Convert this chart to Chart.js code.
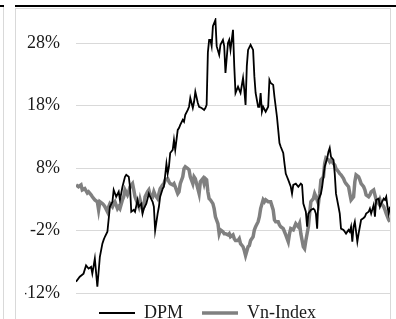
<!DOCTYPE html>
<html>
<head>
<meta charset="utf-8">
<script src="https://cdn.jsdelivr.net/npm/chart.js@4"></script>
<style>
  html, body { margin: 0; padding: 0; background: #fff; }
  body { width: 396px; height: 319px; overflow: hidden; position: relative; }
  .rule { position: absolute; background: #000; height: 2px; top: 5px; }
  .side { position: absolute; left: 3px; top: 7px; width: 1px; height: 320px; background: #d9d9d9; }
  .box { position: absolute; left: 15px; top: 8px; width: 374px; height: 330px; border: 1px solid #d9d9d9; }
  .box canvas { position: absolute; left: 0; top: 0; }
  .cut { position: absolute; left: 131px; top: -19px; font: 18px/18px "Liberation Serif", serif; color: #000; }
</style>
</head>
<body>
<div class="cut">p</div>
<div class="rule" style="left:0;width:4px"></div>
<div class="rule" style="left:15px;width:381px"></div>
<div class="side"></div>
<div class="box"><canvas id="chart" width="374" height="331"></canvas></div>
<script>
const seriesNames = ['DPM', 'Vn-Index'];
const yTicks = [-12, -2, 8, 18, 28];

// trading day index and % change
const dpmDays = [0,3,6,8,10,12,13,15,17,19,21,22,23,25,27,29,30,32,34,35,37,39,40,42,43,44,46,47,49,50,
  52,53,54,56,58,59,61,62,63,65,66,67,69,70,72,73,74,75,77,78,79,81,82,83,85,86,87,89,90,91,
  93,94,95,97,98,100,102,103,104,105,106,107,108,109,111,112,114,115,117,118,119,121,122,123,125,126,127,129,130,131,
  133,134,135,136,137,139,141,142,143,145,146,147,148,149,151,153,154,155,157,158,159,160,161,162,163,165,166,167,168,169,
  171,172,173,175,177,179,180,181,183,184,185,187,189,190,191,192,193,195,196,197,198,200,201,202,203,205,206,207,209,210,
  211,213,214,215,217,218,219,220,221,222,224,225,226,227,229,230,231,233,234,235,237,238,239,241,242,243,245,246,247,248,249,250];
const dpmValues = [-10.2,-9.4,-8.9,-7.6,-8.1,-7.8,-8.9,-6.5,-11.0,-6.2,-4.1,-3.5,-3.0,-2.2,1.8,2.6,4.5,3.4,4.2,2.9,
  5.0,6.6,6.9,6.6,5.0,1.0,1.3,1.0,2.9,1.8,2.3,0.7,1.5,2.3,3.9,3.4,2.6,1.8,-2.0,0.7,
  1.8,3.4,4.7,5.0,8.7,7.1,8.2,10.4,10.9,12.5,10.9,14.1,14.4,14.9,15.7,15.4,16.5,17.3,17.8,19.2,
  17.6,18.6,20.2,18.4,17.8,17.6,17.3,17.6,18.1,26.5,28.5,28.5,27.5,30.7,31.7,27.5,26.1,27.7,28.5,27.5,
  23.2,28.0,28.5,26.9,30.1,24.3,20.0,21.0,20.5,20.0,22.4,20.5,18.1,24.3,26.9,27.7,26.9,22.7,20.0,17.8,
  17.8,20.0,17.0,17.8,17.0,17.8,22.1,21.6,21.3,19.4,17.8,16.2,14.1,12.0,11.4,10.4,8.7,7.1,6.6,6.1,
  5.0,3.9,5.3,5.5,5.0,5.5,5.3,2.3,1.0,-1.4,0.7,1.3,1.5,1.3,0.7,-1.7,2.9,3.9,5.0,6.6,
  8.2,9.6,10.6,11.2,9.8,9.3,7.1,3.9,1.8,0.7,-1.7,-1.9,-2.2,-2.5,-1.9,-2.2,-1.4,-3.8,-1.4,-0.6,
  -3.8,-2.5,-1.4,-0.3,0.0,0.2,0.7,1.0,1.5,0.7,2.1,0.2,2.9,3.1,1.8,2.3,3.1,2.9,3.4,1.8,0.7,1.8];

const vnDays = [0,2,4,5,7,9,10,12,13,15,17,18,19,21,22,23,25,26,27,29,30,31,33,34,35,37,38,39,41,42,
  43,45,46,47,49,50,51,53,54,55,57,58,59,61,62,63,65,66,67,69,70,71,73,74,75,77,78,79,81,82,
  83,85,86,87,89,90,91,93,94,95,97,98,99,101,102,103,104,105,106,107,109,110,111,113,114,115,117,118,119,121,
  122,123,125,126,127,129,130,131,133,134,135,137,138,139,141,142,143,145,146,147,149,150,151,153,154,155,157,158,159,161,
  162,163,165,166,167,169,170,171,173,174,175,177,178,179,181,182,183,185,186,187,189,190,191,193,194,195,197,198,199,201,
  202,203,205,206,207,209,210,211,213,214,215,217,218,219,221,222,223,225,226,227,229,230,231,233,234,235,237,238,239,241,
  242,243,245,246,247,249,250];
const vnValues = [5.3,5.0,5.3,4.5,4.7,4.0,4.2,3.7,3.4,2.9,2.6,1.3,2.6,2.3,2.1,1.8,1.0,1.8,2.3,1.8,
  2.3,2.6,1.5,1.8,1.5,2.9,3.4,4.5,3.7,4.2,5.0,5.5,4.5,3.4,2.3,1.8,2.9,1.3,1.8,3.4,
  4.2,4.5,3.7,3.4,4.2,3.7,3.1,3.9,4.7,5.3,5.5,6.1,6.3,5.8,5.5,5.3,5.5,5.0,3.9,4.2,
  5.5,6.6,7.9,8.2,7.9,7.7,6.6,5.5,6.6,6.3,4.7,3.9,5.8,6.3,5.5,6.3,6.1,4.2,3.1,2.9,
  2.3,1.5,0.2,-0.9,-2.5,-1.9,-2.2,-2.5,-2.5,-2.7,-2.5,-3.0,-2.7,-3.3,-3.6,-3.6,-3.3,-4.1,-4.6,-5.2,
  -6.0,-4.6,-4.4,-3.6,-3.0,-1.9,-1.4,-0.6,0.2,1.5,2.9,2.6,2.9,2.6,2.6,2.6,1.3,-0.3,-0.6,-0.6,
  -1.1,-1.4,-1.7,-2.2,-2.7,-3.8,-2.5,-1.7,-1.9,-1.4,-0.9,-1.4,-0.9,-2.5,-4.6,-4.9,-3.6,-1.4,0.7,2.6,
  3.1,3.9,3.4,2.3,3.9,6.1,6.6,8.7,9.6,9.3,9.0,9.3,8.7,8.5,7.9,7.4,7.1,6.9,6.3,5.8,
  5.5,5.0,3.9,2.9,3.4,5.8,6.9,6.6,6.1,5.5,5.0,4.5,3.7,3.4,3.7,4.2,4.5,3.7,2.9,2.3,
  2.9,2.3,1.8,1.3,0.7,-0.3,-0.6];

function toPoints(days, values) {
    return days.map((d, i) => ({x: d, y: values[i]}));
}

// nudge the legend up a little, it sits closer to the plot than Chart.js puts it
const legendShift = {
    id: 'legendShift',
    afterLayout(chart) {
        chart.legend.top -= 8;
        chart.legend.bottom -= 8;
    }
};

const serif = '"Liberation Serif", "Times New Roman", serif';

new Chart(document.getElementById('chart'), {
    type: 'line',
    data: {
        datasets: [{
            label: seriesNames[0],
            data: toPoints(dpmDays, dpmValues),
            borderColor: '#000000',
            backgroundColor: '#000000',
            borderWidth: 1.8,
            pointRadius: 0,
            tension: 0
        }, {
            label: seriesNames[1],
            data: toPoints(vnDays, vnValues),
            borderColor: '#808080',
            backgroundColor: '#808080',
            borderWidth: 3.5,
            pointRadius: 0,
            tension: 0
        }]
    },
    options: {
        responsive: false,
        animation: false,
        layout: {
            padding: {left: 9, top: 9, right: 0, bottom: 0}
        },
        scales: {
            x: {
                type: 'linear',
                min: 0,
                max: 250,
                display: false
            },
            y: {
                min: -12,
                max: 32,
                afterFit: s => {
                    s.width = 51;
                    s.paddingTop = 0;
                    s.paddingBottom = 0;
                },
                afterBuildTicks: s => { s.ticks = yTicks.map(v => ({value: v})); },
                border: {display: false},
                grid: {color: '#d9d9d9', lineWidth: 1, drawTicks: false},
                ticks: {
                    padding: 16,
                    color: '#1a1a1a',
                    font: {family: serif, size: 18},
                    callback: v => v + '%'
                }
            }
        },
        plugins: {
            tooltip: {enabled: false},
            legend: {
                position: 'bottom',
                labels: {
                    usePointStyle: true,
                    pointStyle: 'line',
                    pointStyleWidth: 36,
                    padding: 19,
                    color: '#1a1a1a',
                    font: {family: serif, size: 18}
                }
            }
        }
    },
    plugins: [legendShift]
});
</script>
</body>
</html>
